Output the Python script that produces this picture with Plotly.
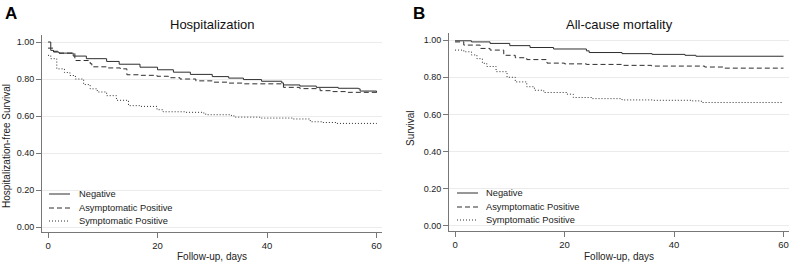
import plotly.graph_objects as go

# ---------------- data ----------------
series_names = ["Negative", "Asymptomatic Positive", "Symptomatic Positive"]
panel_titles = ["Hospitalization", "All-cause mortality"]
panel_letters = ["A", "B"]
y_titles = ["Hospitalization-free Survival", "Survival"]
x_title = "Follow-up, days"
x_ticks = [0, 20, 40, 60]
y_ticks = [0.0, 0.2, 0.4, 0.6, 0.8, 1.0]

# Panel A: hospitalization-free survival
hosp_neg_days = [0, 0.5, 1, 2, 4.6, 7, 10.7, 13, 16.8, 20, 22.9, 26, 30, 33, 35.7, 39, 42.7, 43, 46, 49, 53, 56.7, 57, 60]
hosp_neg_surv = [1.0, 0.955, 0.946, 0.94, 0.924, 0.91, 0.895, 0.88, 0.864, 0.85, 0.837, 0.825, 0.813, 0.805, 0.797, 0.788, 0.779, 0.768, 0.762, 0.755, 0.75, 0.747, 0.735, 0.728]

hosp_asym_days = [0, 1, 2, 4.9, 7.7, 8, 11, 13.2, 14.4, 17, 19.9, 22, 24.1, 27, 30.2, 33, 35.7, 42.7, 43, 46, 49.7, 52, 54.8, 60]
hosp_asym_surv = [0.967, 0.95, 0.94, 0.90, 0.883, 0.866, 0.86, 0.855, 0.823, 0.82, 0.815, 0.807, 0.80, 0.79, 0.783, 0.778, 0.774, 0.774, 0.755, 0.748, 0.737, 0.732, 0.728, 0.725]

hosp_sym_days = [0, 0.5, 1.6, 3, 4, 5, 6.5, 7.7, 9, 10.7, 12.5, 14.7, 16.8, 19.9, 21, 25, 28.4, 28.8, 33.5, 34, 38.7, 44.8, 47.9, 50, 52.7, 60]
hosp_sym_surv = [0.928, 0.91, 0.855, 0.835, 0.819, 0.80, 0.77, 0.747, 0.73, 0.71, 0.685, 0.656, 0.652, 0.634, 0.623, 0.62, 0.616, 0.607, 0.601, 0.594, 0.589, 0.584, 0.569, 0.565, 0.56, 0.557]

# Panel B: all-cause survival
mort_neg_days = [0, 3, 6.4, 10, 13.7, 18, 24, 24.5, 30.5, 36, 42, 44, 60]
mort_neg_surv = [0.996, 0.99, 0.982, 0.97, 0.96, 0.952, 0.942, 0.933, 0.927, 0.923, 0.918, 0.913, 0.913]

mort_asym_days = [0, 1.6, 4.6, 6.4, 8.9, 11, 13.1, 16.8, 20, 24, 30.5, 35.9, 45.6, 49.2, 60]
mort_asym_surv = [0.99, 0.973, 0.955, 0.946, 0.918, 0.905, 0.895, 0.876, 0.872, 0.869, 0.864, 0.86, 0.855, 0.849, 0.849]

mort_sym_days = [0, 1.6, 3, 4, 5, 5.8, 7.5, 9.5, 11, 13.1, 14.5, 16.2, 20.4, 21.6, 25, 30.5, 36, 43.2, 45, 60]
mort_sym_surv = [0.946, 0.937, 0.92, 0.90, 0.875, 0.858, 0.83, 0.80, 0.775, 0.749, 0.73, 0.718, 0.709, 0.691, 0.685, 0.678, 0.676, 0.673, 0.664, 0.664]

# ---------------- styling ----------------
W, H = 790, 262
FONT = "Liberation Sans, Arial, Helvetica, sans-serif"
LINE_COLOR = "#2e2e2e"
dashes = ["solid", "5px,3px", "1px,2px"]

fig = go.Figure()

panels = [
    ([hosp_neg_days, hosp_asym_days, hosp_sym_days], [hosp_neg_surv, hosp_asym_surv, hosp_sym_surv], "x", "y"),
    ([mort_neg_days, mort_asym_days, mort_sym_days], [mort_neg_surv, mort_asym_surv, mort_sym_surv], "x2", "y2"),
]
for days_list, surv_list, xa, ya in panels:
    for name, d, s, dash in zip(series_names, days_list, surv_list, dashes):
        fig.add_trace(go.Scatter(
            x=d, y=s, mode="lines", name=name, line_shape="hv",
            line=dict(color=LINE_COLOR, width=1, dash=dash),
            xaxis=xa, yaxis=ya, showlegend=False, hoverinfo="skip",
        ))

def px_x(p):
    return p / W

def px_y(p):
    return 1 - p / H

xaxis_common = dict(
    range=[-1.1, 61.0], tickvals=x_ticks, ticks="outside", ticklen=5, tickwidth=1,
    tickcolor="#777777", showline=True, linecolor="#777777", linewidth=1,
    showgrid=False, zeroline=False, tickfont=dict(family=FONT, size=9.5, color="#222222"),
    fixedrange=True,
)
yaxis_common = dict(
    range=[-0.027, 1.038], tickvals=y_ticks, tickformat=".2f", ticks="outside", ticklen=5,
    tickwidth=1, tickcolor="#777777", showline=True, linecolor="#777777", linewidth=1,
    showgrid=True, gridcolor="#ebebeb", gridwidth=1, zeroline=False,
    tickfont=dict(family=FONT, size=9, color="#222222"), fixedrange=True,
)

fig.update_layout(
    width=W, height=H,
    margin=dict(l=0, r=0, t=0, b=0, autoexpand=False),
    paper_bgcolor="white", plot_bgcolor="white",
    font=dict(family=FONT, size=10, color="#222222"),
    xaxis=dict(xaxis_common, domain=[px_x(42), px_x(382)], anchor="y"),
    yaxis=dict(yaxis_common, domain=[px_y(232), px_y(35)], anchor="x"),
    xaxis2=dict(xaxis_common, domain=[px_x(449), px_x(789)], anchor="y2"),
    yaxis2=dict(yaxis_common, domain=[px_y(231), px_y(33)], anchor="x2"),
    showlegend=False,
)

annotations = [
    dict(text="<b>A</b>", x=px_x(3), y=px_y(14), xanchor="left", yanchor="middle",
         font=dict(size=17, color="#000000")),
    dict(text="<b>B</b>", x=px_x(411), y=px_y(14), xanchor="left", yanchor="middle",
         font=dict(size=17, color="#000000")),
    dict(text=panel_titles[0], x=px_x(212), y=px_y(25), xanchor="center", yanchor="middle",
         font=dict(size=13, color="#111111")),
    dict(text=panel_titles[1], x=px_x(619), y=px_y(24), xanchor="center", yanchor="middle",
         font=dict(size=13, color="#111111")),
    dict(text=x_title, x=px_x(212), y=px_y(256), xanchor="center", yanchor="middle",
         font=dict(size=10, color="#222222")),
    dict(text=x_title, x=px_x(619), y=px_y(256), xanchor="center", yanchor="middle",
         font=dict(size=10, color="#222222")),
    dict(text=y_titles[0], x=px_x(6), y=px_y(146), xanchor="center", yanchor="middle",
         textangle=-90, font=dict(size=10, color="#222222")),
    dict(text=y_titles[1], x=px_x(411), y=px_y(128), xanchor="center", yanchor="middle",
         textangle=-90, font=dict(size=10, color="#222222")),
]

# legend (per panel): short line sample + label
shapes = []
legend_layout = [
    dict(x0=49, x1=70, tx=77, rows=[194, 208, 221]),
    dict(x0=457, x1=478, tx=484, rows=[193, 207, 220]),
]
for lg in legend_layout:
    for name, dash, ry in zip(series_names, dashes, lg["rows"]):
        shapes.append(dict(type="line", xref="paper", yref="paper",
                           x0=px_x(lg["x0"]), x1=px_x(lg["x1"]), y0=px_y(ry), y1=px_y(ry),
                           line=dict(color=LINE_COLOR, width=1, dash=dash)))
        annotations.append(dict(text=name, x=px_x(lg["tx"]), y=px_y(ry), xanchor="left",
                                yanchor="middle", font=dict(size=9.3, color="#222222")))

for a in annotations:
    a.update(xref="paper", yref="paper", showarrow=False)
fig.update_layout(annotations=annotations, shapes=shapes)

fig.write_html("out.html", config={"displayModeBar": False, "staticPlot": True},
               post_script="document.body.style.margin='0';document.body.style.overflow='hidden';")
